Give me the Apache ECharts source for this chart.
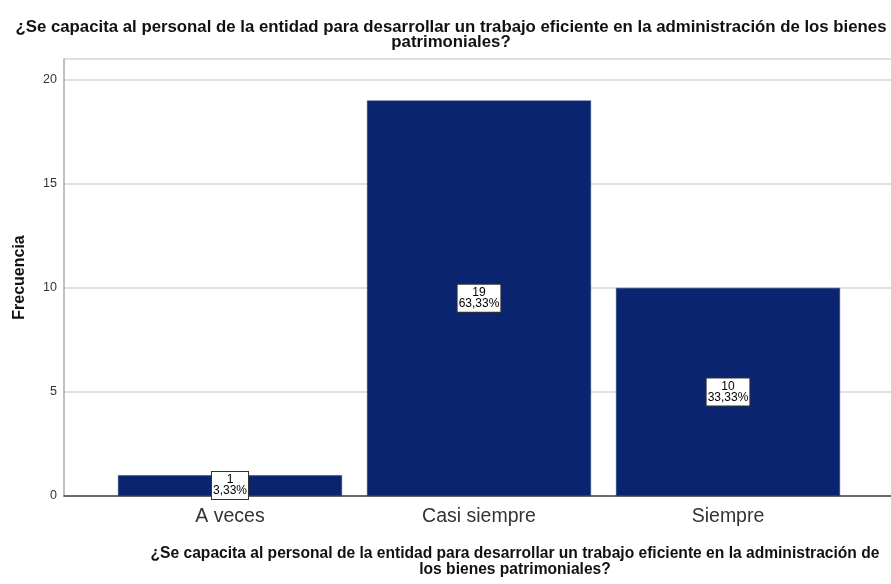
<!DOCTYPE html>
<html>
<head>
<meta charset="utf-8">
<script src="https://cdn.jsdelivr.net/npm/echarts@6/dist/echarts.min.js"></script>
<style>
  html, body { margin: 0; padding: 0; background: #fff; }
  #chart { width: 891px; height: 584px; }
</style>
</head>
<body>
<div id="chart"></div>
<script>
var categories = ['A veces', 'Casi siempre', 'Siempre'];
var counts = [1, 19, 10];
var yTicks = [0, 5, 10, 15, 20];

var titleText = '¿Se capacita al personal de la entidad para desarrollar un trabajo eficiente en la administración de los bienes\npatrimoniales?';
var xName = '¿Se capacita al personal de la entidad para desarrollar un trabajo eficiente en la administración de\nlos bienes patrimoniales?';

var total = counts.reduce(function (a, b) { return a + b; }, 0);

function pct(v) {
  return (v / total * 100).toFixed(2).replace('.', ',') + '%';
}

var myChart = echarts.init(document.getElementById('chart'));
var font = 'Liberation Sans, Arial, sans-serif';

var option = {
  animation: false,
  backgroundColor: '#fff',
  title: [
    {
      text: titleText,
      left: 446, top: 15, textAlign: 'center',
      textStyle: { fontFamily: font, fontSize: 16.8, fontWeight: 'bold', color: '#111', lineHeight: 15 }
    },
    {
      text: xName,
      left: 510, top: 541, textAlign: 'center',
      textStyle: { fontFamily: font, fontSize: 15.6, fontWeight: 'bold', color: '#111', lineHeight: 16 }
    }
  ],
  grid: [
    // frame grid: gridlines + y axis
    { left: 64, right: 0, top: 59, bottom: 88 },
    // bars grid
    { left: 105.5, width: 747, top: 59, bottom: 88 }
  ],
  xAxis: [
    {
      gridIndex: 0, type: 'value', min: 0, max: 1,
      axisLine: { show: true, onZero: false, lineStyle: { color: '#444', width: 1.5 } },
      axisTick: { show: false }, axisLabel: { show: false }, splitLine: { show: false }
    },
    {
      gridIndex: 1, type: 'category', data: categories,
      axisLine: { show: false }, axisTick: { show: false },
      axisLabel: { fontFamily: font, fontSize: 19.5, color: '#333', margin: 11 }
    }
  ],
  yAxis: [
    {
      gridIndex: 0, type: 'value', min: 0, max: 21, interval: 5,
      name: 'Frecuencia', nameLocation: 'middle', nameGap: 36,
      nameTextStyle: { fontFamily: font, fontSize: 16, fontWeight: 'bold', color: '#111' },
      axisLine: { show: true, lineStyle: { color: '#aaa', width: 1.5 } },
      axisTick: { show: false },
      axisLabel: {
        fontFamily: font, fontSize: 12.5, color: '#333', margin: 7,
        formatter: function (v) { return yTicks.indexOf(v) >= 0 ? v : ''; }
      },
      splitLine: { show: true, lineStyle: { color: '#d6d6d6', width: 1.5 } }
    },
    {
      gridIndex: 1, type: 'value', min: 0, max: 21, show: false,
      splitLine: { show: false }
    }
  ],
  series: [
    {
      type: 'bar',
      xAxisIndex: 1, yAxisIndex: 1,
      data: counts,
      barWidth: 224,
      itemStyle: { color: '#0b246f', borderColor: '#2a3f80', borderWidth: 0.5 },
      label: {
        show: true,
        position: 'inside',
        formatter: function (p) { return p.value + '\n' + pct(p.value); },
        fontFamily: font, fontSize: 12, color: '#000', lineHeight: 11,
        backgroundColor: '#fff', borderColor: '#333', borderWidth: 1,
        padding: [3, 1, 2, 1], align: 'center'
      }
    }
  ]
};

myChart.setOption(option);
</script>
</body>
</html>
